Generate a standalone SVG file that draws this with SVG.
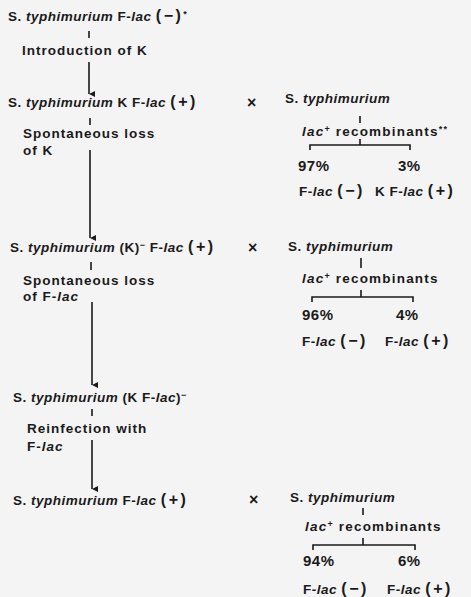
<svg xmlns="http://www.w3.org/2000/svg" width="471" height="597" viewBox="0 0 471 597">
<style>
text{font-family:"Liberation Sans",Arial,sans-serif;font-weight:bold;font-size:13.5px;letter-spacing:0.5px;fill:#1a1a1a}
.i{font-style:italic}
.s{font-size:9px}
.q{font-size:16px;letter-spacing:2.5px}
.p{font-size:15px}
.x{font-size:16px}
.w{letter-spacing:1.2px}
.l{letter-spacing:1px}
line,path{stroke:#1a1a1a;stroke-width:1.6;fill:none}
</style>
<defs>
<marker id="ah" markerWidth="8" markerHeight="8" refX="4" refY="7" orient="auto" markerUnits="userSpaceOnUse">
<path d="M1,1 L4,7 L7,1" style="fill:#1a1a1a;stroke:none"/>
</marker>
</defs>
<rect width="471" height="597" fill="#f4f4f4"/>
<g id="connectors">
<line x1="89" y1="31" x2="89" y2="38"/>
<line x1="89" y1="62" x2="89" y2="94" marker-end="url(#ah)"/>
<line x1="90" y1="118" x2="90" y2="125"/>
<line x1="90" y1="150" x2="90" y2="238" marker-end="url(#ah)"/>
<line x1="91" y1="262" x2="91" y2="270"/>
<line x1="92" y1="302" x2="92" y2="385" marker-end="url(#ah)"/>
<line x1="92" y1="409" x2="92" y2="416"/>
<line x1="92" y1="440" x2="92" y2="489" marker-end="url(#ah)"/>
<line x1="360" y1="116" x2="360" y2="123"/>
<path d="M310,150 V145 H410 V150 M360,145 V139"/>
<line x1="361" y1="258" x2="361" y2="268"/>
<path d="M312,302 V297 H413 V302 M361,297 V290"/>
<line x1="363" y1="508" x2="363" y2="515"/>
<path d="M313,550 V545 H415 V550 M363,545 V538"/>
</g>
<g id="n1"><text x="8" y="21">S. <tspan class="i">typhimurium</tspan> F-<tspan class="i">lac</tspan> <tspan class="q">(−)</tspan><tspan class="s" dy="-4">*</tspan></text></g>
<g id="l1"><text class="l" x="22" y="55">Introduction of K</text></g>
<g id="n2"><text x="8" y="107">S. <tspan class="i">typhimurium</tspan> K F-<tspan class="i">lac</tspan> <tspan class="q">(+)</tspan></text></g>
<g id="x2"><text class="x" x="247" y="108">×</text></g>
<g id="r2"><text x="285" y="103">S. <tspan class="i">typhimurium</tspan></text>
<text class="w" x="302" y="136"><tspan class="i">lac</tspan><tspan class="s" dy="-4">+</tspan><tspan dy="4"> recombinants</tspan><tspan class="s" dy="-4">**</tspan></text>
<text class="p" x="298" y="171">97%</text><text class="p" x="398" y="171">3%</text>
<text x="299" y="196">F-<tspan class="i">lac</tspan> <tspan class="q">(−)</tspan></text><text x="375" y="196">K F-<tspan class="i">lac</tspan> <tspan class="q">(+)</tspan></text></g>
<g id="l2"><text class="l" x="23" y="138">Spontaneous loss</text><text class="l" x="23" y="155">of K</text></g>
<g id="n3"><text x="10" y="252">S. <tspan class="i">typhimurium</tspan> (K)<tspan class="s" dy="-4">−</tspan><tspan dy="4"> F-</tspan><tspan class="i">lac</tspan> <tspan class="q">(+)</tspan></text></g>
<g id="x3"><text class="x" x="248" y="253">×</text></g>
<g id="r3"><text x="288" y="251">S. <tspan class="i">typhimurium</tspan></text>
<text class="w" x="302" y="283"><tspan class="i">lac</tspan><tspan class="s" dy="-4">+</tspan><tspan dy="4"> recombinants</tspan></text>
<text class="p" x="302" y="320">96%</text><text class="p" x="396" y="320">4%</text>
<text x="302" y="346">F-<tspan class="i">lac</tspan> <tspan class="q">(−)</tspan></text><text x="385" y="346">F-<tspan class="i">lac</tspan> <tspan class="q">(+)</tspan></text></g>
<g id="l3"><text class="l" x="23" y="285">Spontaneous loss</text><text class="l" x="23" y="301">of F-<tspan class="i">lac</tspan></text></g>
<g id="n4"><text x="13" y="402">S. <tspan class="i">typhimurium</tspan> (K F-<tspan class="i">lac</tspan>)<tspan class="s" dy="-4">−</tspan></text></g>
<g id="l4"><text class="l" x="27" y="433">Reinfection with</text><text class="l" x="27" y="451">F-<tspan class="i">lac</tspan></text></g>
<g id="n5"><text x="13" y="505">S. <tspan class="i">typhimurium</tspan> F-<tspan class="i">lac</tspan> <tspan class="q">(+)</tspan></text></g>
<g id="x5"><text class="x" x="249" y="505">×</text></g>
<g id="r5"><text x="290" y="502">S. <tspan class="i">typhimurium</tspan></text>
<text class="w" x="305" y="531"><tspan class="i">lac</tspan><tspan class="s" dy="-4">+</tspan><tspan dy="4"> recombinants</tspan></text>
<text class="p" x="303" y="566">94%</text><text class="p" x="398" y="566">6%</text>
<text x="303" y="594">F-<tspan class="i">lac</tspan> <tspan class="q">(−)</tspan></text><text x="387" y="594">F-<tspan class="i">lac</tspan> <tspan class="q">(+)</tspan></text></g>
</svg>
